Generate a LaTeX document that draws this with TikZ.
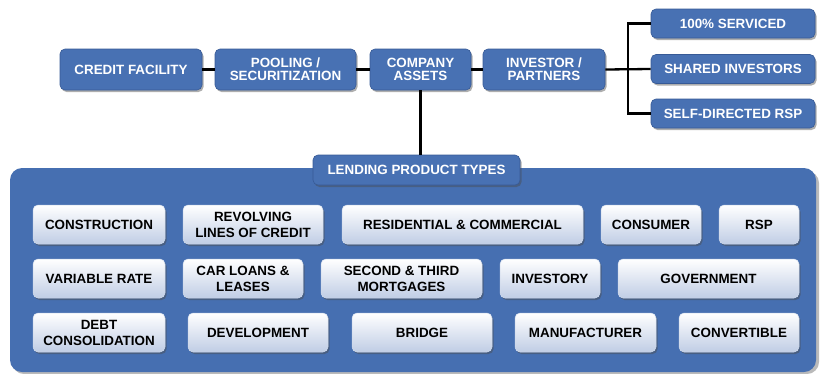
\documentclass[tikz,border=0pt]{standalone}
\usepackage{fontspec}
\setmainfont{Liberation Sans}
\usetikzlibrary{shadows}
\definecolor{boxblue}{RGB}{72,113,179}
\definecolor{boxedge}{RGB}{55,90,150}
\definecolor{panelblue}{RGB}{70,111,177}
\definecolor{lightbot}{RGB}{192,205,229}
\tikzset{
  shd/.style={drop shadow={opacity=0.45, shadow xshift=1.5pt, shadow yshift=-2pt, fill=black!70}},
  bluebox/.style={shd, rounded corners=5pt, fill=boxblue, draw=boxedge, line width=0.6pt,
    text=white, align=center, inner sep=0pt,
    font=\bfseries\fontsize{13.4}{12.7}\selectfont},
  lightbox/.style={shd, rounded corners=5pt, top color=white, bottom color=lightbot,
    draw=white!75!boxblue, line width=0.5pt, text=black, align=center, inner sep=0pt,
    minimum height=39pt, font=\bfseries\fontsize{13.4}{16}\selectfont},
  link/.style={line width=2.3pt, black}
}
\begin{document}
\begin{tikzpicture}[x=1pt,y=-1pt]
\useasboundingbox (0,0) rectangle (820,373);
% panel
\fill[black!60, opacity=0.45, rounded corners=12pt] (12,171) rectangle (819,374);
\fill[panelblue, rounded corners=12pt] (10,168) rectangle (816,372);
% top row
\node[bluebox, minimum width=142pt, minimum height=41pt] (cf) at (131,69.5) {CREDIT FACILITY};
\node[bluebox, minimum width=141pt, minimum height=41pt] (pool) at (285.5,69.5) {POOLING /\\SECURITIZATION};
\node[bluebox, minimum width=101pt, minimum height=41pt] (ca) at (420.5,69.5) {COMPANY\\ASSETS};
\node[bluebox, minimum width=122pt, minimum height=41pt] (inv) at (544,69.5) {INVESTOR /\\PARTNERS};
\node[bluebox, minimum width=164pt, minimum height=29pt] (s100) at (733,23.5) {100\% SERVICED};
\node[bluebox, minimum width=164pt, minimum height=29pt] (shared) at (733,69) {SHARED INVESTORS};
\node[bluebox, minimum width=164pt, minimum height=29pt] (self) at (733,113.5) {SELF-DIRECTED RSP};
\node[bluebox, minimum width=207pt, minimum height=30pt] (tab) at (416.5,170) {LENDING PRODUCT TYPES};
% connectors
\coordinate (br) at (628,69);
\draw[link] (cf.east) -- (pool.west);
\draw[link] (pool.east) -- (ca.west);
\draw[link] (ca.east) -- (inv.west);
\draw[link] (inv.east) -- (shared.west);
\draw[link] (s100.west) -| (br) |- (self.west);
\draw[link] (ca.south) -- (ca.south |- tab.north);
% row 1
\node[lightbox, minimum width=132pt] (constr) at (99,224.5) {CONSTRUCTION};
\node[lightbox, minimum width=140pt] (revolv) at (253,224.5) {REVOLVING\\LINES OF CREDIT};
\node[lightbox, minimum width=241pt] (resid) at (462.5,224.5) {RESIDENTIAL \& COMMERCIAL};
\node[lightbox, minimum width=100pt] (consum) at (651,224.5) {CONSUMER};
\node[lightbox, minimum width=80pt] (rsp) at (759,224.5) {RSP};
% row 2
\node[lightbox, minimum width=132pt] (varr) at (99,278.5) {VARIABLE RATE};
\node[lightbox, minimum width=120pt] (car) at (243,278.5) {CAR LOANS \&\\LEASES};
\node[lightbox, minimum width=161pt] (second) at (401.5,278.5) {SECOND \& THIRD\\MORTGAGES};
\node[lightbox, minimum width=100pt] (investory) at (550,278.5) {INVESTORY};
\node[lightbox, minimum width=181pt] (gov) at (708.5,278.5) {GOVERNMENT};
% row 3
\node[lightbox, minimum width=132pt] (debt) at (99,332.5) {DEBT\\CONSOLIDATION};
\node[lightbox, minimum width=140pt] (devel) at (258,332.5) {DEVELOPMENT};
\node[lightbox, minimum width=140pt] (bridge) at (422,332.5) {BRIDGE};
\node[lightbox, minimum width=141pt] (manuf) at (585.5,332.5) {MANUFACTURER};
\node[lightbox, minimum width=120pt] (conv) at (739,332.5) {CONVERTIBLE};
\end{tikzpicture}
\end{document}
